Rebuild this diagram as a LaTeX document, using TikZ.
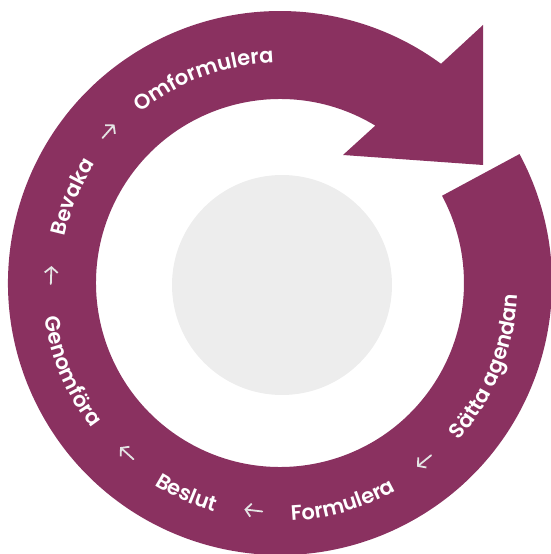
\documentclass[tikz,border=0pt]{standalone}
\usepackage{fontspec}
\setmainfont{Poppins}[UprightFont=* SemiBold]
\usetikzlibrary{decorations.text, arrows.meta}
\definecolor{ringcol}{HTML}{8A3160}
\definecolor{discol}{HTML}{EDEDED}
\definecolor{arwcol}{HTML}{E4E4E4}
\newcommand\lblfont{\fontsize{21}{25}\selectfont}
\tikzset{
  ring/.style={fill=ringcol, draw=none},
  disc/.style={fill=discol, draw=none},
  arw/.style={draw=arwcol, line width=1.8, -{Straight Barb[length=5.5, width=13]}, line cap=round},
  lbl/.style={decorate, decoration={text along path, text align=center, text color=white, text={|\lblfont|#1}}},
}
\begin{document}
\begin{tikzpicture}[x=1pt,y=1pt]
\useasboundingbox (-280,-271) rectangle (271,283);
\fill[disc] (2,-2) circle[radius=110];
\fill[ring] (28.3:272) arc[start angle=28.3, end angle=-306.3, radius=272]
  -- (203,258) -- (203,118) -- (63,128) -- (58.8:184)
  arc[start angle=-301.2, end angle=28.3, radius=184] -- cycle;
% labels, clockwise (tops outward)
\path[lbl=Omformulera] (150.5:220) arc[start angle=150.5, end angle=70.5, radius=220];
\path[lbl=Bevaka] (197.5:220) arc[start angle=197.5, end angle=117.5, radius=220];
% labels, counterclockwise (tops inward)
\path[lbl=Genomföra] (163:238) arc[start angle=163, end angle=243, radius=238];
\path[lbl=Beslut] (206:238) arc[start angle=206, end angle=286, radius=238];
\path[lbl=Formulera] (246:238) arc[start angle=246, end angle=326, radius=238];
\path[lbl={Sätta agendan}] (298:238) arc[start angle=298, end angle=378, radius=238];
% flow arrows
\foreach \a in {138.5,178,228,263.3,309}
  \draw[arw, shift={(\a:229)}, rotate=\a-90] (-9,0) -- (9,0);
\end{tikzpicture}
\end{document}
